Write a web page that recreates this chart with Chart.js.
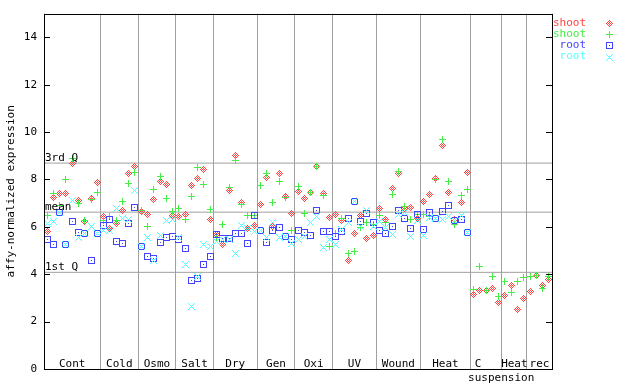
<!DOCTYPE html>
<html>
<head>
<meta charset="utf-8">
<script src="https://cdn.jsdelivr.net/npm/chart.js@4"></script>
<style>
  html, body { margin: 0; padding: 0; background: #fff; }
</style>
</head>
<body>
<canvas id="myChart" width="640" height="384"></canvas>
<script>
// groups along the x axis (number of samples in each)
let groupNames = ['Cont', 'Cold', 'Osmo', 'Salt', 'Dry', 'Gen', 'Oxi', 'UV', 'Wound', 'Heat', 'C\nsuspension', 'Heat', 'rec'];
let groupSizes = [9, 6, 6, 6, 7, 6, 6, 7, 7, 8, 5, 4, 4];

let yTicks = [0, 2, 4, 6, 8, 10, 12, 14];

let refLabels = ['3rd Q', 'mean', '1st Q'];
let refValues = [8.69, 6.62, 4.08];

let seriesLabels = ['shoot', 'shoot', 'root', 'root'];

let shoot1 = [5.80, 7.25, 7.39, 7.39, 8.66, 7.10, 6.24, 7.18, 7.89,
  6.42, 5.94, 6.16, 6.67, 8.24, 8.54,
  6.64, 6.50, 7.14, 7.91, 7.79, 6.49,
  6.45, 6.54, 7.76, 8.06, 8.43, 6.32,
  5.69, 5.27, 7.55, 8.99, 7.04, 5.92, 6.07,
  6.96, 8.10, 6.03, 8.24, 7.30, 6.58,
  7.48, 7.21, 7.46, 8.54, 7.39, 6.40,
  6.54, 6.27, 4.58, 5.73, 6.49, 5.52, 5.63,
  6.79, 6.30, 7.63, 8.27, 6.79, 6.83, 6.37,
  7.08, 7.38, 8.06, 9.45, 7.46, 6.30, 7.04, 8.31,
  3.16, 3.32, 3.32, 3.41, 2.82,
  3.12, 3.54, 2.52, 2.99,
  3.28, 3.96, 3.54, 3.79];

let shoot2 = [6.46, 7.39, 6.92, 8.01, 8.90, 7.00, 6.26, 7.16, 7.46,
  6.25, 6.42, 6.26, 7.06, 7.82, 8.31,
  6.71, 6.03, 7.59, 8.14, 7.18, 6.65,
  6.79, 6.30, 7.30, 8.52, 7.80, 6.75,
  5.56, 6.11, 7.68, 8.81, 6.96, 6.49, 6.49,
  7.76, 8.27, 7.01, 7.93, 7.24, 5.83,
  7.72, 6.58, 7.46, 8.54, 7.31, 5.18,
  5.73, 6.37, 4.88, 4.97, 5.99, 6.20, 6.10,
  6.49, 6.20, 7.38, 8.35, 6.87, 6.32, 6.50,
  6.54, 6.43, 8.01, 9.70, 7.93, 6.11, 7.34, 7.59,
  3.37, 4.34, 3.32, 3.92, 3.07,
  3.70, 3.24, 3.70, 3.88,
  3.92, 3.96, 3.41, 3.92];

let root1 = [5.45, 5.27, 6.62, 5.25, 6.21, 5.78, 5.73, 4.60, 5.73,
  6.07, 6.32, 5.40, 5.31, 6.16, 6.83,
  5.18, 4.76, 4.67, 5.35, 5.56, 5.60,
  5.48, 5.10, 3.75, 3.83, 4.42, 4.76,
  5.69, 5.52, 5.52, 5.73, 5.73, 5.31, 6.49,
  5.83, 5.35, 5.86, 5.99, 5.60, 5.45,
  5.83, 5.78, 5.62, 6.70, 5.80, 5.80,
  5.60, 5.80, 6.37, 7.08, 6.24, 6.58, 6.20,
  5.86, 5.73, 6.03, 6.70, 6.37, 5.94, 6.54,
  5.90, 6.62, 6.35, 6.66, 6.92, 6.28, 6.32, 5.76,
  null, null, null, null, null,
  null, null, null, null,
  null, null, null, null];

let root2 = [6.16, 6.21, 6.62, 5.25, 7.10, 5.57, 5.73, 6.03, 5.73,
  5.85, 5.85, 6.79, 6.37, 6.30, 7.53,
  5.18, 5.56, 4.57, 5.62, 6.28, 6.30,
  5.56, 4.42, 2.65, 3.90, 5.27, 5.18,
  5.38, 5.45, 5.45, 4.89, 6.07, 5.95, 5.82,
  5.83, 5.56, 6.17, 5.56, 5.60, 5.31,
  5.48, 5.58, 6.20, 6.45, 5.13, 5.45,
  5.27, 5.90, 6.20, 7.08, 6.03, 6.70, 6.01,
  6.24, 5.97, 5.69, 6.54, 6.60, 5.60, 6.28,
  5.65, 6.41, 6.35, 6.32, 6.45, 6.28, 6.49, 5.76,
  null, null, null, null, null,
  null, null, null, null,
  null, null, null, null];

let colors = ['#ff4444', '#44ee44', '#4444ff', '#55ffff'];
let FONT = '11px "DejaVu Sans Mono"';

let nSamples = groupSizes.reduce((a, b) => a + b, 0);
let bounds = [0];
groupSizes.forEach(s => bounds.push(bounds[bounds.length - 1] + s));

function toPoints(arr) {
  let out = [];
  arr.forEach((v, i) => { if (v !== null) out.push({ x: i + 0.5, y: v }); });
  return out;
}

// little pixel markers
function marker(color, test) {
  let c = document.createElement('canvas');
  c.width = 7; c.height = 7;
  let g = c.getContext('2d');
  g.fillStyle = color;
  for (let dy = -3; dy <= 3; dy++)
    for (let dx = -3; dx <= 3; dx++)
      if (test(dx, dy)) g.fillRect(dx + 3, dy + 3, 1, 1);
  return c;
}
let markers = [
  marker(colors[0], (dx, dy) => { let d = Math.abs(dx) + Math.abs(dy); return d === 1 || d === 3; }),
  marker(colors[1], (dx, dy) => dx === 0 || dy === 0),
  marker(colors[2], (dx, dy) => Math.abs(dx) === 3 || Math.abs(dy) === 3 || (dx === 0 && dy === 0)),
  marker(colors[3], (dx, dy) => Math.abs(dx) === Math.abs(dy))
];

let seriesData = [shoot1, shoot2, root1, root2];

let dataset2 = seriesData.map((arr, i) => ({
  label: seriesLabels[i],
  data: toPoints(arr),
  pointStyle: markers[i],
  pointRadius: 3,
  order: 4 - i
}));

refValues.forEach(v => {
  dataset2.push({
    type: 'line',
    label: '',
    data: [{ x: 0, y: v }, { x: nSamples, y: v }],
    borderColor: '#a0a0a0',
    borderWidth: 1,
    pointRadius: 0,
    order: 10
  });
});

let decor = {
  id: 'decor',
  beforeDatasetsDraw(chart) {
    chart.ctx.imageSmoothingEnabled = false;
  },
  afterDatasetsDraw(chart) {
    const ctx = chart.ctx;
    const a = chart.chartArea;
    const x = chart.scales.x, y = chart.scales.y;
    ctx.save();
    ctx.imageSmoothingEnabled = false;
    ctx.strokeStyle = '#000';
    ctx.lineWidth = 1;
    ctx.strokeRect(Math.round(a.left) + 0.5, Math.round(a.top) + 0.5,
      Math.round(a.right - a.left), Math.round(a.bottom - a.top));

    // inward ticks on both sides
    ctx.beginPath();
    yTicks.forEach(v => {
      let py = Math.round(y.getPixelForValue(v)) + 0.5;
      ctx.moveTo(a.left, py); ctx.lineTo(a.left + 6, py);
      ctx.moveTo(a.right - 6, py); ctx.lineTo(a.right, py);
    });
    ctx.stroke();

    ctx.font = FONT;
    ctx.fillStyle = '#000';

    // quartile labels
    ctx.textAlign = 'left';
    ctx.textBaseline = 'alphabetic';
    refValues.forEach((v, i) => {
      ctx.fillText(refLabels[i], a.left + 1, Math.round(y.getPixelForValue(v)) - 2);
    });

    // group labels
    ctx.textAlign = 'center';
    ctx.textBaseline = 'middle';
    groupNames.forEach((name, i) => {
      let cx = x.getPixelForValue((bounds[i] + bounds[i + 1]) / 2);
      let lines = name.split('\n');
      if (lines.length > 1) {
        ctx.fillText(lines[0], cx - 8, a.bottom - 5);
        ctx.fillText(lines[1], cx + 15, a.bottom + 9);
      } else {
        ctx.fillText(name, cx, a.bottom - 5);
      }
    });

    // legend
    ctx.textAlign = 'right';
    seriesLabels.forEach((lab, i) => {
      let ly = 23 + i * 11.2;
      ctx.fillStyle = colors[i];
      ctx.fillText(lab, 586, ly);
      ctx.drawImage(markers[i], 606, Math.round(ly) - 3);
    });
    ctx.restore();
  }
};

let ctx = document.getElementById('myChart').getContext('2d');

let myChart = new Chart(ctx, {
  type: 'scatter',
  data: { datasets: dataset2 },
  options: {
    responsive: false,
    animation: false,
    layout: { padding: { top: 13, right: 88, left: 0, bottom: 0 } },
    plugins: {
      legend: { display: false },
      tooltip: { enabled: false }
    },
    scales: {
      x: {
        type: 'linear',
        min: 0,
        max: nSamples,
        afterBuildTicks: s => { s.ticks = bounds.map(v => ({ value: v })); },
        afterFit: s => { s.height = 15; },
        ticks: { display: false },
        grid: { color: '#a0a0a0', drawTicks: false },
        border: { display: false }
      },
      y: {
        min: 0,
        max: 15,
        afterBuildTicks: s => { s.ticks = yTicks.map(v => ({ value: v })); },
        afterFit: s => { s.width = 44; },
        ticks: { color: '#000', font: { family: 'DejaVu Sans Mono', size: 11 }, padding: 7 },
        grid: { display: false, drawTicks: false },
        border: { display: false },
        title: {
          display: true,
          text: 'affy-normalized expression',
          color: '#000',
          font: { family: 'DejaVu Sans Mono', size: 11 },
          padding: { top: 5, bottom: 0 }
        }
      }
    }
  },
  plugins: [decor]
});
</script>
</body>
</html>
